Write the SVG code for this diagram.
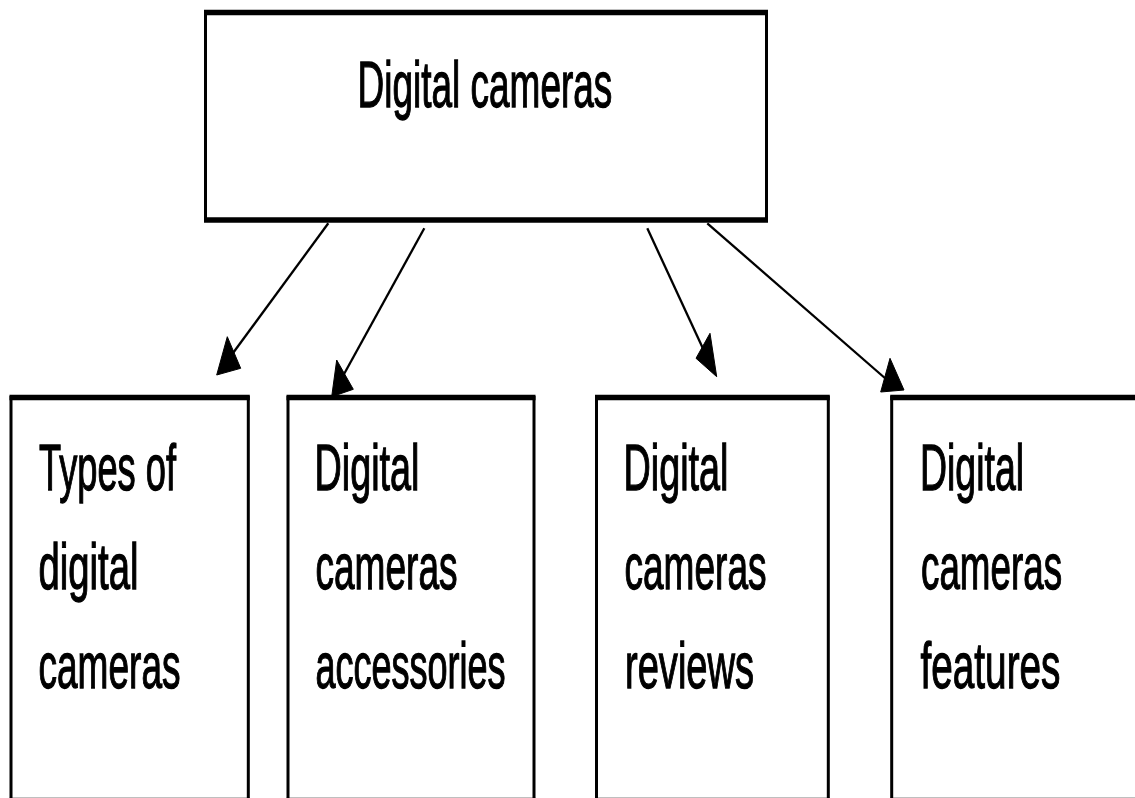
<svg xmlns="http://www.w3.org/2000/svg" width="1135" height="798" viewBox="0 0 1135 798">
<style>
.box{fill:#fff;stroke:#000;stroke-width:3}
.hedge{stroke:#000;stroke-width:5.5;fill:none}
.lbl{font-family:"Liberation Sans",Arial,sans-serif;font-size:65px;fill:#000;stroke:#000;stroke-width:1.3}
.conn line{stroke:#000;stroke-width:2.3}
.head{fill:#000;stroke:#000;stroke-width:1;stroke-linejoin:round}
</style>
<rect width="1135" height="798" fill="#fff"/>
<g id="node-root">
<rect class="box" x="205.5" y="12.5" width="561" height="207.5"/>
<line class="hedge" x1="204" y1="12.5" x2="768" y2="12.5"/>
<line class="hedge" x1="204" y1="220" x2="768" y2="220"/>
<text class="lbl" transform="translate(357.5,107) scale(0.569,1)">Digital cameras</text>
</g>
<g id="node-types">
<rect class="box" x="11" y="397.5" width="237.3" height="403"/>
<line class="hedge" x1="9.5" y1="397.5" x2="249.8" y2="397.5"/>
<line class="hedge" x1="9.5" y1="800.5" x2="249.8" y2="800.5"/>
<text class="lbl" transform="translate(39,490) scale(0.5576,1)">Types of</text>
<text class="lbl" transform="translate(38.5,589) scale(0.589,1)">digital</text>
<text class="lbl" transform="translate(38.5,688) scale(0.570,1)">cameras</text>
</g>
<g id="node-accessories">
<rect class="box" x="288" y="397.5" width="246" height="403"/>
<line class="hedge" x1="286.5" y1="397.5" x2="535.5" y2="397.5"/>
<line class="hedge" x1="286.5" y1="800.5" x2="535.5" y2="800.5"/>
<text class="lbl" transform="translate(314.5,490) scale(0.581,1)">Digital</text>
<text class="lbl" transform="translate(315.5,589) scale(0.570,1)">cameras</text>
<text class="lbl" transform="translate(315.5,688) scale(0.554,1)">accessories</text>
</g>
<g id="node-reviews">
<rect class="box" x="596.5" y="397.5" width="231.8" height="403"/>
<line class="hedge" x1="595" y1="397.5" x2="829.8" y2="397.5"/>
<line class="hedge" x1="595" y1="800.5" x2="829.8" y2="800.5"/>
<text class="lbl" transform="translate(623.5,490) scale(0.581,1)">Digital</text>
<text class="lbl" transform="translate(624.5,589) scale(0.570,1)">cameras</text>
<text class="lbl" transform="translate(625,688) scale(0.586,1)">reviews</text>
</g>
<g id="node-features">
<rect class="box" x="891.7" y="397.5" width="260" height="403"/>
<line class="hedge" x1="890.2" y1="397.5" x2="1153" y2="397.5"/>
<line class="hedge" x1="890.2" y1="800.5" x2="1153" y2="800.5"/>
<text class="lbl" transform="translate(920,490) scale(0.576,1)">Digital</text>
<text class="lbl" transform="translate(921,589) scale(0.566,1)">cameras</text>
<text class="lbl" transform="translate(920.5,688) scale(0.596,1)">features</text>
</g>
<g id="connectors" class="conn">
<line x1="328.3" y1="223.3" x2="222" y2="368"/>
<polygon class="head" points="227.3,336.7 216.7,375 240.7,368.3"/>
<line x1="424.3" y1="228.3" x2="338" y2="385"/>
<polygon class="head" points="336.7,360 331.7,396.7 353.3,389.3"/>
<line x1="647.3" y1="228.3" x2="712" y2="368"/>
<polygon class="head" points="710,333.3 696,358.3 716.7,376.7"/>
<line x1="707.3" y1="223.3" x2="894" y2="386"/>
<polygon class="head" points="890,358.3 880.7,392 904,390"/>
</g>
</svg>
